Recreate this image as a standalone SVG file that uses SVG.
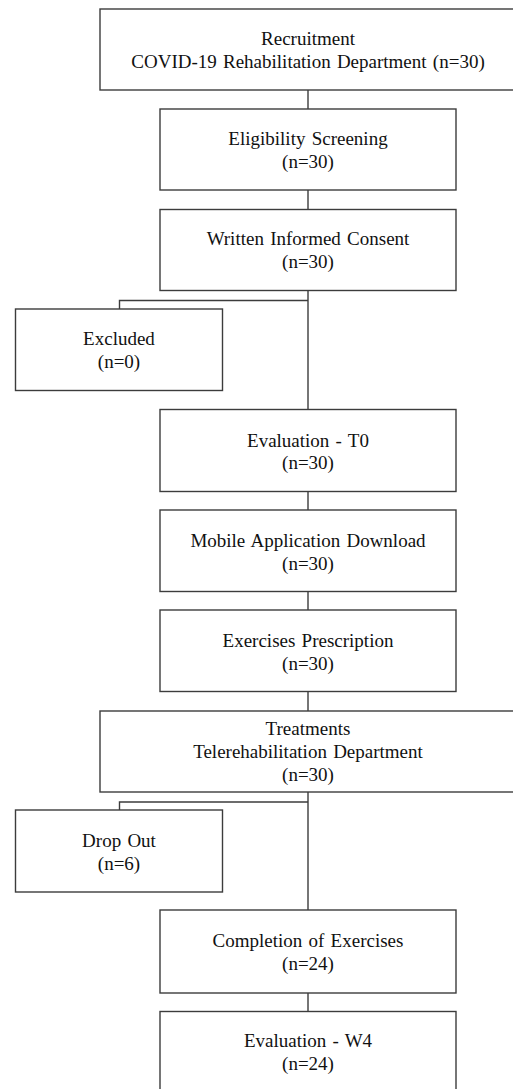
<svg xmlns="http://www.w3.org/2000/svg" width="513" height="1089" viewBox="0 0 513 1089">
<style>
.box{fill:#ffffff;stroke:#3c3c3c;stroke-width:1.4}
.con{fill:none;stroke:#3c3c3c;stroke-width:1.4}
text{font-family:"Liberation Serif","Times New Roman",serif;font-size:19px;fill:#111111;text-anchor:middle;word-spacing:1.5px}
</style>
<rect width="513" height="1089" fill="#ffffff"/>
<g id="connectors">
<line class="con" x1="308" y1="90" x2="308" y2="109"/>
<line class="con" x1="308" y1="190" x2="308" y2="209.5"/>
<line class="con" x1="308" y1="290.5" x2="308" y2="409.5"/>
<polyline class="con" points="308,300.5 119.5,300.5 119.5,309"/>
<line class="con" x1="308" y1="491.5" x2="308" y2="510"/>
<line class="con" x1="308" y1="591.5" x2="308" y2="610"/>
<line class="con" x1="308" y1="691.5" x2="308" y2="711"/>
<line class="con" x1="308" y1="792" x2="308" y2="910"/>
<polyline class="con" points="308,802 119.5,802 119.5,810"/>
<line class="con" x1="308" y1="993" x2="308" y2="1011.5"/>
</g>
<g id="recruitment">
<rect class="box" x="100" y="9" width="416" height="81"/>
<text x="308" y="45">Recruitment</text>
<text x="308" y="68">COVID-19 Rehabilitation Department (n=30)</text>
</g>
<g id="eligibility">
<rect class="box" x="160" y="109" width="296" height="81"/>
<text x="308" y="145">Eligibility Screening</text>
<text x="308" y="167.5">(n=30)</text>
</g>
<g id="consent">
<rect class="box" x="160" y="209.5" width="296" height="81"/>
<text x="308" y="245">Written Informed Consent</text>
<text x="308" y="268">(n=30)</text>
</g>
<g id="excluded">
<rect class="box" x="15.5" y="309" width="207" height="81.5"/>
<text x="119" y="345">Excluded</text>
<text x="119" y="368">(n=0)</text>
</g>
<g id="evaluation-t0">
<rect class="box" x="160" y="409.5" width="296" height="82"/>
<text x="308" y="446.5">Evaluation - T0</text>
<text x="308" y="469">(n=30)</text>
</g>
<g id="mobile-download">
<rect class="box" x="160" y="510" width="296" height="81.5"/>
<text x="308" y="546.5">Mobile Application Download</text>
<text x="308" y="569.5">(n=30)</text>
</g>
<g id="exercises-prescription">
<rect class="box" x="160" y="610" width="296" height="81.5"/>
<text x="308" y="646.5">Exercises Prescription</text>
<text x="308" y="669.5">(n=30)</text>
</g>
<g id="treatments">
<rect class="box" x="100" y="711" width="416" height="81"/>
<text x="308" y="735">Treatments</text>
<text x="308" y="757.5">Telerehabilitation Department</text>
<text x="308" y="781">(n=30)</text>
</g>
<g id="drop-out">
<rect class="box" x="15.5" y="810" width="207" height="82"/>
<text x="119" y="846.5">Drop Out</text>
<text x="119" y="870">(n=6)</text>
</g>
<g id="completion">
<rect class="box" x="160" y="910" width="296" height="83"/>
<text x="308" y="946.5">Completion of Exercises</text>
<text x="308" y="970">(n=24)</text>
</g>
<g id="evaluation-w4">
<rect class="box" x="160" y="1011.5" width="296" height="82"/>
<text x="308" y="1046.5">Evaluation - W4</text>
<text x="308" y="1070">(n=24)</text>
</g>
</svg>
